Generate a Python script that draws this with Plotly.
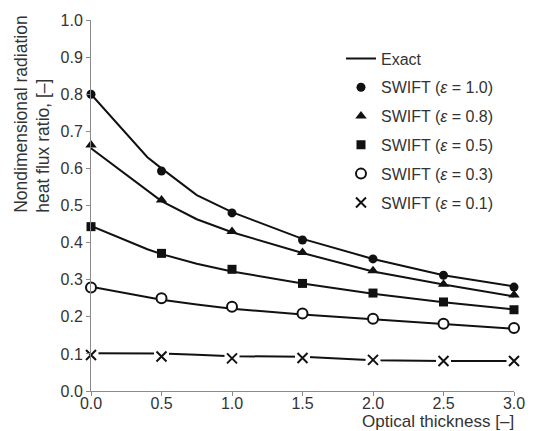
import plotly.graph_objects as go

# ---- data ----
tau_swift = [0.0, 0.5, 1.0, 1.5, 2.0, 2.5, 3.0]
swift_e10 = [0.800, 0.593, 0.480, 0.407, 0.356, 0.312, 0.280]
swift_e08 = [0.663, 0.515, 0.430, 0.373, 0.324, 0.288, 0.259]
swift_e05 = [0.443, 0.371, 0.328, 0.290, 0.264, 0.240, 0.219]
swift_e03 = [0.279, 0.250, 0.227, 0.209, 0.195, 0.181, 0.170]
swift_e01 = [0.097, 0.093, 0.088, 0.089, 0.084, 0.081, 0.081]

tau_exact = [0.0, 0.4, 0.5, 0.75, 1.0, 1.5, 2.0, 2.5, 3.0]
exact_e10 = [0.800, 0.630, 0.600, 0.528, 0.482, 0.410, 0.356, 0.312, 0.282]
exact_e08 = [0.654, 0.540, 0.512, 0.463, 0.428, 0.372, 0.322, 0.287, 0.255]
exact_e05 = [0.445, 0.382, 0.369, 0.343, 0.322, 0.290, 0.262, 0.239, 0.220]
exact_e03 = [0.281, 0.253, 0.246, 0.233, 0.222, 0.206, 0.193, 0.180, 0.168]
exact_e01 = [0.102, 0.102, 0.101, 0.098, 0.094, 0.092, 0.083, 0.081, 0.081]

x_ticks = [0.0, 0.5, 1.0, 1.5, 2.0, 2.5, 3.0]
y_ticks = [0.0, 0.1, 0.2, 0.3, 0.4, 0.5, 0.6, 0.7, 0.8, 0.9, 1.0]

INK = "#111111"
AX = "#8a8a8a"
FONT = "Liberation Sans, Arial, sans-serif"

fig = go.Figure()

exact_series = [exact_e10, exact_e08, exact_e05, exact_e03, exact_e01]
for i, ys in enumerate(exact_series):
    fig.add_trace(go.Scatter(
        x=tau_exact, y=ys, mode="lines", name="Exact",
        line=dict(color=INK, width=2),
        legendgroup="exact", showlegend=(i == 0), cliponaxis=False,
    ))

# white halo behind crosses (line breaks around the x markers)
fig.add_trace(go.Scatter(
    x=tau_swift, y=swift_e01, mode="markers", showlegend=False, hoverinfo="skip",
    marker=dict(symbol="square", size=15, color="white", line=dict(width=0)),
    cliponaxis=False,
))

swift = [
    ("SWIFT (<i>ε</i> = 1.0)", swift_e10, dict(symbol="circle", size=9, color=INK)),
    ("SWIFT (<i>ε</i> = 0.8)", swift_e08, dict(symbol="triangle-up", size=10, color=INK)),
    ("SWIFT (<i>ε</i> = 0.5)", swift_e05, dict(symbol="square", size=9, color=INK)),
    ("SWIFT (<i>ε</i> = 0.3)", swift_e03, dict(symbol="circle", size=10, color="white",
                                              line=dict(color=INK, width=2))),
    ("SWIFT (<i>ε</i> = 0.1)", swift_e01, dict(symbol="x-thin", size=10,
                                              line=dict(color=INK, width=2))),
]
for k, (name, ys, mk) in enumerate(swift):
    fig.add_trace(go.Scatter(
        x=tau_swift, y=ys, mode="markers", name=name, marker=mk,
        legendgroup="s%d" % k, cliponaxis=False,
    ))

axis_common = dict(
    showline=True, linecolor=AX, linewidth=1, mirror=False,
    showgrid=False, zeroline=False,
    ticks="outside", ticklen=4, tickcolor=AX, tickwidth=1,
    tickfont=dict(family=FONT, size=16, color="#333333"),
    tickformat=".1f",
)

fig.update_xaxes(range=[0, 3], tickvals=x_ticks, ticklabelstandoff=-6, **axis_common)
fig.update_yaxes(range=[0, 1], tickvals=y_ticks, **axis_common)

fig.update_layout(
    width=537, height=431,
    margin=dict(l=91, r=15, t=20, b=40),
    paper_bgcolor="white", plot_bgcolor="white",
    font=dict(family=FONT, color="#333333"),
    showlegend=True,
    legend=dict(
        x=0.591, y=0.942, xanchor="left", yanchor="top",
        traceorder="grouped", tracegroupgap=5,
        font=dict(family=FONT, size=16, color="#333333"),
        bgcolor="rgba(0,0,0,0)", borderwidth=0,
    ),
    annotations=[
        dict(text="Nondimensional radiation<br>heat flux ratio, [–]",
             xref="paper", yref="paper", x=-0.139, y=0.745,
             xanchor="center", yanchor="middle", textangle=-90, align="left",
             showarrow=False, font=dict(family=FONT, size=17.5, color="#333333")),
        dict(text="Optical thickness [–]",
             xref="paper", yref="paper", x=1.005, y=-0.0825,
             xanchor="right", yanchor="middle",
             showarrow=False, font=dict(family=FONT, size=17, color="#333333")),
    ],
)

fig.write_html("out.html")
